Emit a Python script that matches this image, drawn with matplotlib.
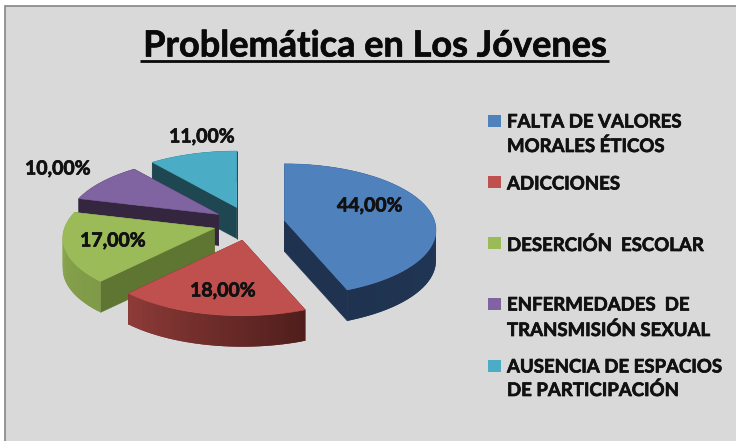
#Pie chart "Problemática en Los Jóvenes" - falso 3D con perspectiva
import numpy as np
import matplotlib
matplotlib.use("Agg")
import matplotlib.pyplot as plt
import matplotlib.patheffects as pe
from matplotlib.patches import Rectangle
from matplotlib.colors import to_rgb

title = "Problemática en Los Jóvenes"
values = [44, 18, 17, 10, 11]
legend_lines = [["FALTA DE VALORES", "MORALES ÉTICOS"], ["ADICCIONES"], ["DESERCIÓN  ESCOLAR"],
                ["ENFERMEDADES  DE", "TRANSMISIÓN SEXUAL"], ["AUSENCIA DE ESPACIOS", "DE PARTICIPACIÓN"]]
top_colors = ["#4F81BD", "#C0504D", "#9BBB59", "#8064A2", "#4BACC6"]
#lado curvo: color al inicio y al final del arco, y color de las caras rectas
arc_start = ["#243B5C", "#4F1E1C", "#7F9A48", "#4A3A5E", "#2C6472"]
arc_end = ["#1F3350", "#8E3B38", "#8DAA50", "#3A2A4E", "#1F4752"]
flat_sides = ["#1F3350", "#5A2422", "#5F7532", "#35263F", "#1F4752"]

#posiciones en píxeles de la figura
cx, cy = 249, 223.5
rx, ry, persp_x, persp_y = 150, 66, 0.15, 9.5
explode_x, explode_y = 36, 17
depth = 31
draw_order = [4, 3, 2, 0, 1]
label_pos = [(370, 206), (223, 291), (113, 241), (58, 169), (202, 137)]
legend_y = [(122, 146), (184,), (245,), (305, 330), (367, 390)]
square_y = [121, 182, 243, 304, 366]

plt.rcParams["font.family"] = ["Lato", "DejaVu Sans"]
fig = plt.figure(figsize=(7.36, 4.41), dpi=100, facecolor="white")
ax = fig.add_axes([0, 0, 1, 1])
ax.set_xlim(0, 736)
ax.set_ylim(441, 0)
ax.axis("off")
ax.add_patch(Rectangle((5, 6), 740, 445, facecolor="#D9D9D9", edgecolor="#868686", linewidth=1.2))
heavy = [pe.withStroke(linewidth=0.5, foreground="#111111")]


def project(ang):
    u, v = np.sin(ang), np.cos(ang)
    return rx * u * (1 - persp_x * v), -v * (ry - persp_y * v)


def mix(c1, c2, t):
    return tuple((1 - t) * a + t * b for a, b in zip(to_rgb(c1), to_rgb(c2)))


def face(xs, ys, color, lw=0.4):
    ax.fill(xs, ys, facecolor=color, edgecolor=color, linewidth=lw)


fractions = np.array(values) / sum(values)
ends = np.cumsum(fractions) * 2 * np.pi
starts = ends - fractions * 2 * np.pi

for i in draw_order:
    mid = (starts[i] + ends[i]) / 2
    ax0 = cx + explode_x * np.sin(mid)
    ay0 = cy - explode_y * np.cos(mid)
    angs = np.linspace(starts[i], ends[i], 60)
    dx, dy = project(angs)
    xs, ys = ax0 + dx, ay0 + dy
    n = len(angs) - 1

    def arc_part(front):
        #cada tramo pisa al siguiente para que no se vean costuras
        for j in range(n):
            if (np.cos(angs[j]) < 0) == front:
                k = min(j + 2, n)
                face([xs[j], xs[k], xs[k], xs[j]], [ys[j], ys[k], ys[k] + depth, ys[j] + depth],
                     mix(arc_start[i], arc_end[i], j / (n - 1)), lw=0)

    arc_part(False)
    for j in (0, -1):
        face([ax0, xs[j], xs[j], ax0], [ay0, ys[j], ys[j] + depth, ay0 + depth], flat_sides[i])
    arc_part(True)
    #cara superior
    face(np.r_[ax0, xs], np.r_[ay0, ys], top_colors[i])

for v, (x, y) in zip(values, label_pos):
    ax.text(x, y, f"{v:.2f}".replace(".", ",") + "%", ha="center", va="center",
            fontsize=14, fontweight="bold", color="#111111", path_effects=heavy)

ax.text(375, 46, title, ha="center", va="center", fontsize=26, fontweight="bold", color="#0A0A0A", path_effects=heavy)
ax.plot([140, 609], [60.5, 60.5], color="#0A0A0A", linewidth=2, solid_capstyle="butt")

for lines, ys, sy, col in zip(legend_lines, legend_y, square_y, top_colors):
    ax.add_patch(Rectangle((488, sy - 6), 13, 12, facecolor=col, edgecolor="none"))
    for txt, y in zip(lines, ys):
        ax.text(507, y, txt, ha="left", va="center", fontsize=13.4, fontweight="bold", color="#111111", path_effects=heavy)

fig.savefig("out.png", dpi=100)
